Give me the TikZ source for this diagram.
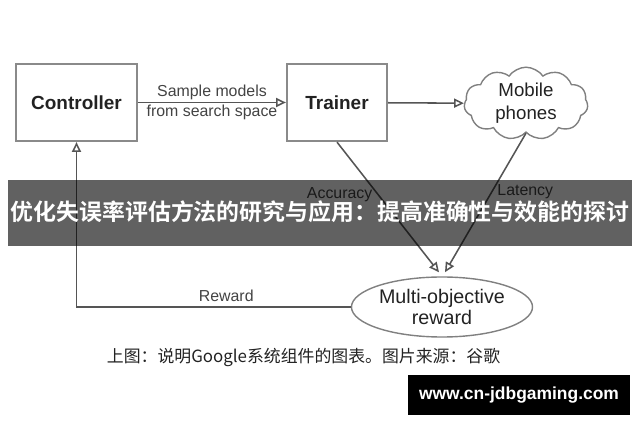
\documentclass[tikz,border=0pt]{standalone}
\usepackage{fontspec}
\setmainfont{Liberation Sans}
\newfontfamily\cjkfont{Noto Sans CJK SC}[BoldFont={Noto Sans CJK SC Bold}]
\usetikzlibrary{positioning,arrows.meta,calc,shapes.geometric,shapes.symbols}
\definecolor{cLine}{HTML}{555555}
\definecolor{cBorder}{HTML}{8A8A8A}
\definecolor{cText}{HTML}{222222}
\tikzset{
  blockbox/.style={draw=cBorder,line width=1.6pt,minimum height=1.925cm,text=cText,
                   font=\fontsize{13.5}{16}\selectfont\bfseries},
  flowline/.style={draw=cLine,line width=1.1pt,-{Triangle[open,length=7pt,width=6.5pt]}},
  edgelabel/.style={text=cText!85,font=\fontsize{11.3}{14.2}\selectfont,align=center},
  softshape/.style={draw=cLine!75,line width=1pt,text=cText,align=center}
}

\begin{document}
\begin{tikzpicture}[x=0.025cm,y=-0.025cm]
        \useasboundingbox (0,0) rectangle (640,426);
        \node[blockbox,minimum width=3.025cm] (ctrl) at (76.5,102.5) {Controller};
        \node[blockbox,minimum width=2.5cm] (trainer) at (337,102.5) {Trainer};
        \node[softshape,cloud,cloud puffs=11,cloud puff arc=110,aspect=2.1,inner sep=0pt,
              minimum width=2.9cm,minimum height=1.45cm,
              font=\fontsize{13.3}{16.4}\selectfont] (phones) at (526,103.5) {Mobile\\phones};
        \node[softshape,ellipse,minimum width=4.525cm,minimum height=1.5cm,inner sep=0pt,
              font=\fontsize{14}{15}\selectfont] (reward) at (442,307) {Multi-objective\\reward};
        \draw[flowline] (ctrl) -- node[edgelabel]{Sample models\\from search space} (trainer);
        \draw[flowline] (trainer) -- (phones);
        \draw[flowline] (trainer.south) -- node[edgelabel,pos=0.4,left]{Accuracy}
              ($(reward.north)+(-3,-4)$);
        \draw[flowline] (phones.south) -- node[edgelabel,pos=0.42,right]{Latency}
              ($(reward.north)+(3,-4)$);
        \draw[flowline] (reward.west) -| node[edgelabel,pos=0.227,above]{Reward} (ctrl.south);
        \fill[black,fill opacity=0.62] (8,180) rectangle (632,246);
        \node[text=white,font=\cjkfont\bfseries\fontsize{16.3}{20}\selectfont] (banner) at (320,212)
              {优化失误率评估方法的研究与应用：提高准确性与效能的探讨};
        \node[anchor=west,text=cText,font=\cjkfont\fontsize{12}{14}\selectfont] (caption) at (102,357)
              {上图：说明Google系统组件的图表。图片来源：谷歌};
        \node[fill=black,text=white,minimum width=5.55cm,minimum height=1cm,
              font=\bfseries\fontsize{12.4}{14}\selectfont] (site) at (519,395) {www.cn-jdbgaming.com};
\end{tikzpicture}
\end{document}
